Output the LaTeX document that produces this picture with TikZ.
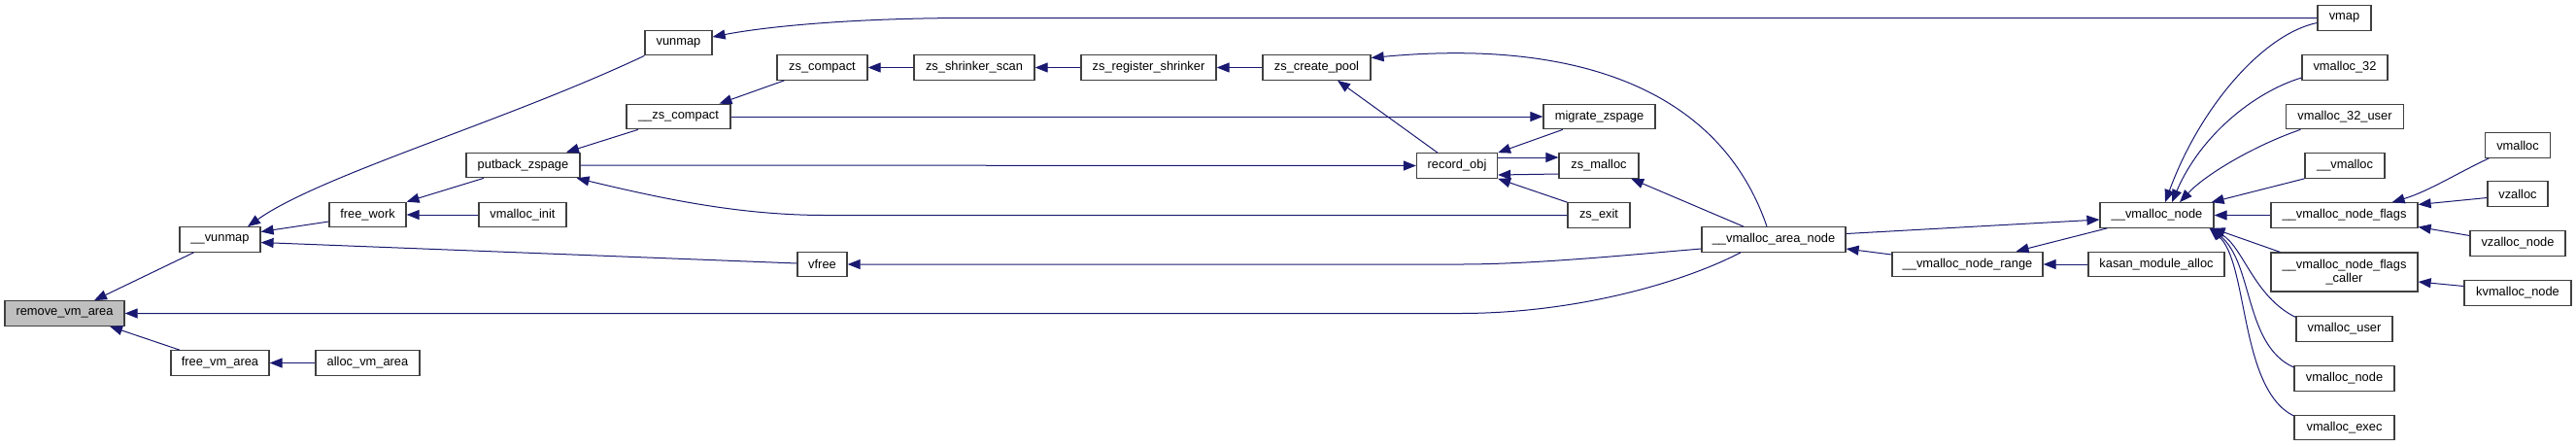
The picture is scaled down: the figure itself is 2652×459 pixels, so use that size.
\documentclass[tikz,border=0pt]{standalone}
\usepackage{fontspec}
\setmainfont{Liberation Sans}
\usetikzlibrary{arrows.meta,calc}
\definecolor{edgeblue}{HTML}{191970}
\definecolor{boxline}{HTML}{404040}
\definecolor{curfill}{HTML}{BFBFBF}
\tikzset{
  fn/.style={draw=boxline, line width=1.2pt, fill=white, rectangle, inner sep=0pt,
    minimum height=25.5pt, align=center, font=\fontsize{12.85}{14.5}\selectfont},
  cur/.style={fn, fill=curfill},
  arr/.style={draw=edgeblue, line width=1pt, -{Triangle[length=13pt,width=10pt]}, fill=none},
}
\begin{document}
\begin{tikzpicture}[x=1pt,y=-1pt]
\useasboundingbox (0,0) rectangle (2652,459);
% nodes
\node[cur, minimum width=123pt] (rva) at (66.5,322.5) {remove\_vm\_area};
\node[fn, minimum width=83pt] (vunU) at (226.5,246.5) {\_\_vunmap};
\node[fn, minimum width=101pt] (fva) at (226.5,373.5) {free\_vm\_area};
\node[fn, minimum width=107pt] (ava) at (378.5,373.5) {alloc\_vm\_area};
\node[fn, minimum width=69pt] (vunmap) at (698.5,44) {vunmap};
\node[fn, minimum width=79pt] (fwork) at (378.5,221) {free\_work};
\node[fn, minimum width=90pt] (vinit) at (538,221) {vmalloc\_init};
\node[fn, minimum width=117pt] (putback) at (538.5,170) {putback\_zspage};
\node[fn, minimum width=107pt] (uzsc) at (698.5,120) {\_\_zs\_compact};
\node[fn, minimum width=93pt] (zsc) at (846.5,69.5) {zs\_compact};
\node[fn, minimum width=124pt] (zss) at (1003,69.5) {zs\_shrinker\_scan};
\node[fn, minimum width=139pt] (zsr) at (1182.5,69.5) {zs\_register\_shrinker};
\node[fn, minimum width=111pt] (zcp) at (1355.5,69.5) {zs\_create\_pool};
\node[fn, minimum width=115pt] (migr) at (1646.5,120) {migrate\_zspage};
\node[fn, minimum width=83pt] (recobj) at (1500,170.5) {record\_obj};
\node[fn, minimum width=82pt] (zsmal) at (1646,170.5) {zs\_malloc};
\node[fn, minimum width=64pt] (zsexit) at (1646,221.5) {zs\_exit};
\node[fn, minimum width=51pt] (vfree) at (846.5,272) {vfree};
\node[fn, minimum width=148pt] (van) at (1826,246.5) {\_\_vmalloc\_area\_node};
\node[fn, minimum width=155pt] (vnr) at (2025.5,272) {\_\_vmalloc\_node\_range};
\node[fn, minimum width=140pt] (kasan) at (2220,272) {kasan\_module\_alloc};
\node[fn, minimum width=117pt] (vn) at (2220.5,221.5) {\_\_vmalloc\_node};
\node[fn, minimum width=55pt] (vmap) at (2413.5,18.5) {vmap};
\node[fn, minimum width=88pt] (v32) at (2414,69.5) {vmalloc\_32};
\node[fn, minimum width=121pt] (v32u) at (2414,120) {vmalloc\_32\_user};
\node[fn, minimum width=82pt] (uvmal) at (2414,170.5) {\_\_vmalloc};
\node[fn, minimum width=151pt] (vnf) at (2413.5,221.5) {\_\_vmalloc\_node\_flags};
\node[fn, minimum width=151pt, minimum height=40pt] (vnfc) at (2413.5,280) {\_\_vmalloc\_node\_flags\\\_caller};
\node[fn, minimum width=99pt] (vuser) at (2413.5,338.5) {vmalloc\_user};
\node[fn, minimum width=103pt] (vnode) at (2413.5,389.5) {vmalloc\_node};
\node[fn, minimum width=103pt] (vexec) at (2413.5,440) {vmalloc\_exec};
\node[fn, minimum width=67pt] (vmalloc) at (2592,149.5) {vmalloc};
\node[fn, minimum width=62pt] (vzalloc) at (2592,199.5) {vzalloc};
\node[fn, minimum width=98pt] (vzn) at (2592,250.5) {vzalloc\_node};
\node[fn, minimum width=110pt] (kvn) at (2592,301.5) {kvmalloc\_node};
% edges
\draw[arr] ($(vunU.south)+(-27,0)$) -- ($(rva.north)+(30.5,0)$);
\draw[arr] ($(fva.north)+(-41.5,0)$) -- ($(rva.south)+(46.5,0)$);
\draw[arr] (ava.west) -- (fva.east);
\draw[arr] ($(van.south)+(-34,0)$) .. controls (1730,292) and (1620,322.5) .. (1503,322.5) -- (rva.east);
\draw[arr] ($(fwork.west)+(0,7)$) -- ($(vunU.east)+(0,-8)$);
\draw[arr] ($(vfree.west)+(0,-1)$) -- ($(vunU.east)+(0,3)$);
\draw[arr] (vunmap.south west) .. controls (520,125) and (330,180) .. ($(vunU.north)+(28.5,0)$);
\draw[arr] (vmap.west) -- (1000,18.5) .. controls (880,18.5) and (790,27) .. ($(vunmap.east)+(0,-6)$);
\draw[arr] ($(putback.south)+(-40.5,0)$) -- (fwork.north east);
\draw[arr] (vinit.west) -- (fwork.east);
\draw[arr] ($(uzsc.south)+(-41.5,0)$) -- ($(putback.north)+(44.5,0)$);
\draw[arr] (zsexit.west) -- (850,221.5) .. controls (760,221.5) and (680,204) .. ($(putback.south east)+(-4,0)$);
\draw[arr] (putback.east) -- (recobj.west);
\draw[arr] ($(zsc.south west)+(8,0)$) -- ($(uzsc.north)+(42,0)$);
\draw[arr] (zss.west) -- (zsc.east);
\draw[arr] (zsr.west) -- (zss.east);
\draw[arr] (zcp.west) -- (zsr.east);
\draw[arr] ($(van.north)+(-7,0)$) .. controls (1770,90) and (1620,40) .. ($(zcp.east)+(0,-10)$);
\draw[arr] ($(recobj.north)+(-20,0)$) -- ($(zcp.south)+(21.5,0)$);
\draw[arr] (uzsc.east) -- (migr.west);
\draw[arr] ($(migr.south west)+(20.5,0)$) -- (recobj.north east);
\draw[arr] ($(recobj.east)+(0,-8.5)$) -- ($(zsmal.west)+(0,-8.5)$);
\draw[arr] ($(zsmal.west)+(0,8.5)$) -- ($(recobj.east)+(0,9.5)$);
\draw[arr] (zsexit.north west) -- (recobj.south east);
\draw[arr] ($(van.north)+(-31,0)$) -- ($(zsmal.south east)+(-8.5,0)$);
\draw[arr] ($(van.west)+(0,9.5)$) .. controls (1680,262) and (1580,272) .. (1503,272) -- (vfree.east);
\draw[arr] ($(van.east)+(0,-6)$) -- ($(vn.west)+(0,4.5)$);
\draw[arr] ($(vnr.west)+(0,-10)$) -- ($(van.east)+(0,9.5)$);
\draw[arr] ($(vn.south west)+(8,0)$) -- ($(vnr.north east)+(-28,0)$);
\draw[arr] (kasan.west) -- (vnr.east);
\draw[arr] ($(vmap.west)+(0,5)$) .. controls (2330,35) and (2265,110) .. ($(vn.north)+(8.5,0)$);
\draw[arr] ($(v32.west)+(0,10.5)$) .. controls (2320,95) and (2265,140) .. ($(vn.north)+(15.5,0)$);
\draw[arr] ($(v32u.south west)+(15.5,0)$) .. controls (2320,150) and (2270,180) .. ($(vn.north)+(23.5,0)$);
\draw[arr] (uvmal.south west) -- ($(vn.north east)+(-3,0)$);
\draw[arr] (vnf.west) -- (vn.east);
\draw[arr] ($(vnfc.north west)+(10,0)$) -- ($(vn.south east)+(-2,0)$);
\draw[arr] ($(vuser.west)+(0,-12)$) .. controls (2320,305) and (2310,255) .. ($(vn.south east)+(-3,0)$);
\draw[arr] ($(vnode.west)+(0,-11.5)$) .. controls (2310,355) and (2320,270) .. ($(vn.south east)+(-4,0)$);
\draw[arr] ($(vexec.west)+(0,-12)$) .. controls (2305,400) and (2315,270) .. ($(vn.south east)+(-5,0)$);
\draw[arr] ($(vmalloc.south west)+(4.5,0)$) .. controls (2530,178) and (2500,197) .. ($(vnf.north east)+(-27,0)$);
\draw[arr] ($(vzalloc.west)+(0,4)$) -- ($(vnf.east)+(0,-11)$);
\draw[arr] ($(vzn.west)+(0,-8)$) -- ($(vnf.east)+(0,12)$);
\draw[arr] ($(kvn.west)+(0,-7)$) -- ($(vnfc.east)+(0,10)$);
\end{tikzpicture}
\end{document}
